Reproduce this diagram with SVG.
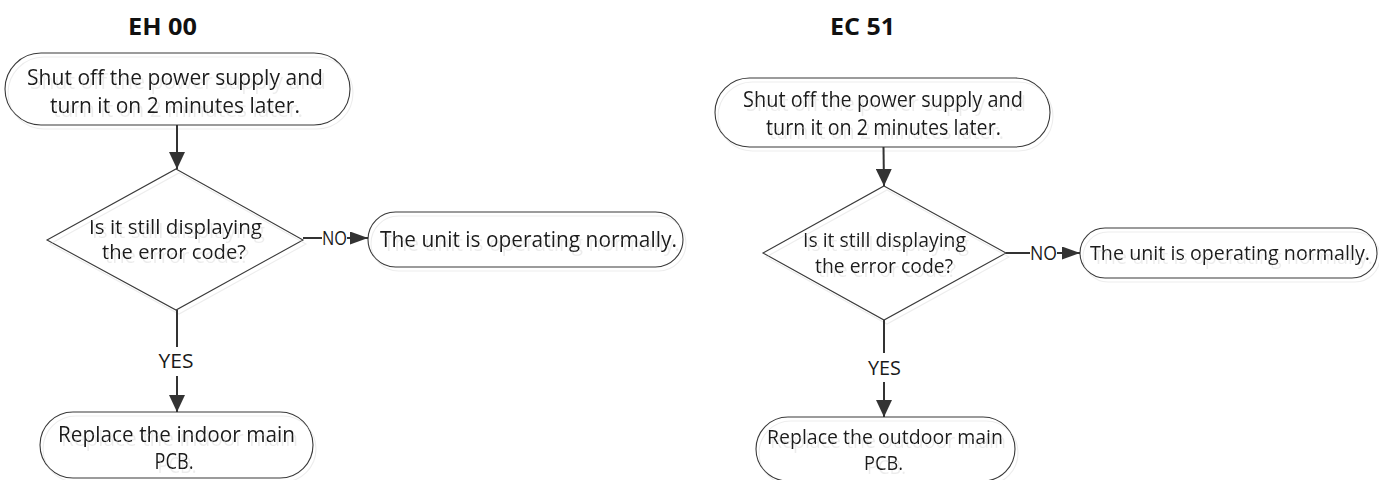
<svg xmlns="http://www.w3.org/2000/svg" width="1379" height="480" viewBox="0 0 1379 480">
<style>
  .t{font-family:"Open Sans","Liberation Sans",sans-serif;fill:#1a1a1a;text-anchor:middle;}
  .title{font-family:"Open Sans","Liberation Sans",sans-serif;font-weight:bold;fill:#111;text-anchor:middle;font-size:24px;}
  .shape{fill:none;stroke:#3a3a3a;stroke-width:1.1;}
  .conn{fill:none;stroke:#333;stroke-width:2;}
  .node{filter:url(#sh);}
</style>
<defs>
  <filter id="sh" x="-5%" y="-10%" width="115%" height="130%">
    <feOffset in="SourceGraphic" dx="3" dy="4" result="o"/>
    <feColorMatrix in="o" type="matrix" values="0 0 0 0 0.83  0 0 0 0 0.83  0 0 0 0 0.83  0 0 0 0.9 0" result="g"/>
    <feMerge><feMergeNode in="g"/><feMergeNode in="SourceGraphic"/></feMerge>
  </filter>
  <marker id="ad" viewBox="0 0 17 16" refX="17" refY="8" markerWidth="17" markerHeight="16" markerUnits="userSpaceOnUse" orient="auto">
    <path d="M0,0 L17,8 L0,16 Z" fill="#333"/>
  </marker>
  <marker id="as" viewBox="0 0 18 13" refX="18" refY="6.5" markerWidth="18" markerHeight="13" markerUnits="userSpaceOnUse" orient="auto">
    <path d="M0,0 L18,6.5 L0,13 Z" fill="#333"/>
  </marker>
</defs>

<!-- Left flowchart: EH 00 -->
<g id="title-eh00">
  <text class="title" x="162.5" y="35" textLength="69" lengthAdjust="spacingAndGlyphs">EH 00</text>
</g>
<g id="eh-start" class="node">
  <rect class="shape" x="5" y="53" width="345" height="72" rx="36" ry="36"/>
  <text class="t" font-size="22" x="175" y="85" textLength="296" lengthAdjust="spacingAndGlyphs">Shut off the power supply and</text>
  <text class="t" font-size="22" x="175" y="113" textLength="250" lengthAdjust="spacingAndGlyphs">turn it on 2 minutes later.</text>
</g>
<g id="eh-decision" class="node">
  <polygon class="shape" points="176,169 303,240 176,310 47,240"/>
  <text class="t" font-size="20" x="175.5" y="234" textLength="173" lengthAdjust="spacingAndGlyphs">Is it still displaying</text>
  <text class="t" font-size="20" x="174" y="259" textLength="144" lengthAdjust="spacingAndGlyphs">the error code?</text>
</g>
<g id="eh-normal" class="node">
  <rect class="shape" x="368" y="212" width="315" height="55" rx="27.5" ry="27.5"/>
  <text class="t" font-size="21" x="528.5" y="247" textLength="297" lengthAdjust="spacingAndGlyphs">The unit is operating normally.</text>
</g>
<g id="eh-replace" class="node">
  <rect class="shape" x="40" y="412" width="273" height="66" rx="33" ry="33"/>
  <text class="t" font-size="21" x="176.5" y="442" textLength="237" lengthAdjust="spacingAndGlyphs">Replace the indoor main</text>
  <text class="t" font-size="21" x="174" y="469" textLength="39" lengthAdjust="spacingAndGlyphs">PCB.</text>
</g>

<!-- Right flowchart: EC 51 -->
<g id="title-ec51">
  <text class="title" x="862.5" y="35" textLength="65" lengthAdjust="spacingAndGlyphs">EC 51</text>
</g>
<g id="ec-start" class="node">
  <rect class="shape" x="715" y="78" width="335" height="69" rx="34.5" ry="34.5"/>
  <text class="t" font-size="21" x="883" y="107" textLength="280" lengthAdjust="spacingAndGlyphs">Shut off the power supply and</text>
  <text class="t" font-size="21" x="883.5" y="135" textLength="235" lengthAdjust="spacingAndGlyphs">turn it on 2 minutes later.</text>
</g>
<g id="ec-decision" class="node">
  <polygon class="shape" points="884,186 1006,253 884,320 763,253"/>
  <text class="t" font-size="19.5" x="884.5" y="247" textLength="163" lengthAdjust="spacingAndGlyphs">Is it still displaying</text>
  <text class="t" font-size="19.5" x="884" y="273" textLength="138" lengthAdjust="spacingAndGlyphs">the error code?</text>
</g>
<g id="ec-normal" class="node">
  <rect class="shape" x="1080" y="228" width="297" height="50" rx="25" ry="25"/>
  <text class="t" font-size="20" x="1230" y="260" textLength="280" lengthAdjust="spacingAndGlyphs">The unit is operating normally.</text>
</g>
<g id="ec-replace" class="node">
  <rect class="shape" x="756" y="417" width="259" height="64" rx="32" ry="32"/>
  <text class="t" font-size="20" x="885" y="444" textLength="236" lengthAdjust="spacingAndGlyphs">Replace the outdoor main</text>
  <text class="t" font-size="20" x="883.5" y="470" textLength="39" lengthAdjust="spacingAndGlyphs">PCB.</text>
</g>

<!-- Connectors -->
<g id="connectors">
  <line class="conn" x1="177" y1="125" x2="177" y2="169" marker-end="url(#ad)"/>
  <line class="conn" x1="303" y1="238" x2="322" y2="238"/>
  <text class="t" font-size="19.5" x="334.5" y="245" textLength="25" lengthAdjust="spacingAndGlyphs">NO</text>
  <line class="conn" x1="347" y1="238" x2="368" y2="238" marker-end="url(#as)"/>
  <line class="conn" x1="177" y1="310" x2="177" y2="347"/>
  <text class="t" font-size="20.5" x="176" y="368" textLength="35" lengthAdjust="spacingAndGlyphs">YES</text>
  <line class="conn" x1="177" y1="376" x2="177" y2="412" marker-end="url(#ad)"/>

  <line class="conn" x1="883.5" y1="147" x2="884" y2="186" marker-end="url(#ad)"/>
  <line class="conn" x1="1006" y1="253" x2="1030" y2="253"/>
  <text class="t" font-size="19.5" x="1043.5" y="260" textLength="27" lengthAdjust="spacingAndGlyphs">NO</text>
  <line class="conn" x1="1057" y1="253" x2="1080" y2="253" marker-end="url(#as)"/>
  <line class="conn" x1="884" y1="320" x2="884" y2="353"/>
  <text class="t" font-size="20.5" x="884.5" y="375" textLength="33" lengthAdjust="spacingAndGlyphs">YES</text>
  <line class="conn" x1="884" y1="382" x2="884" y2="417" marker-end="url(#ad)"/>
</g>
</svg>
